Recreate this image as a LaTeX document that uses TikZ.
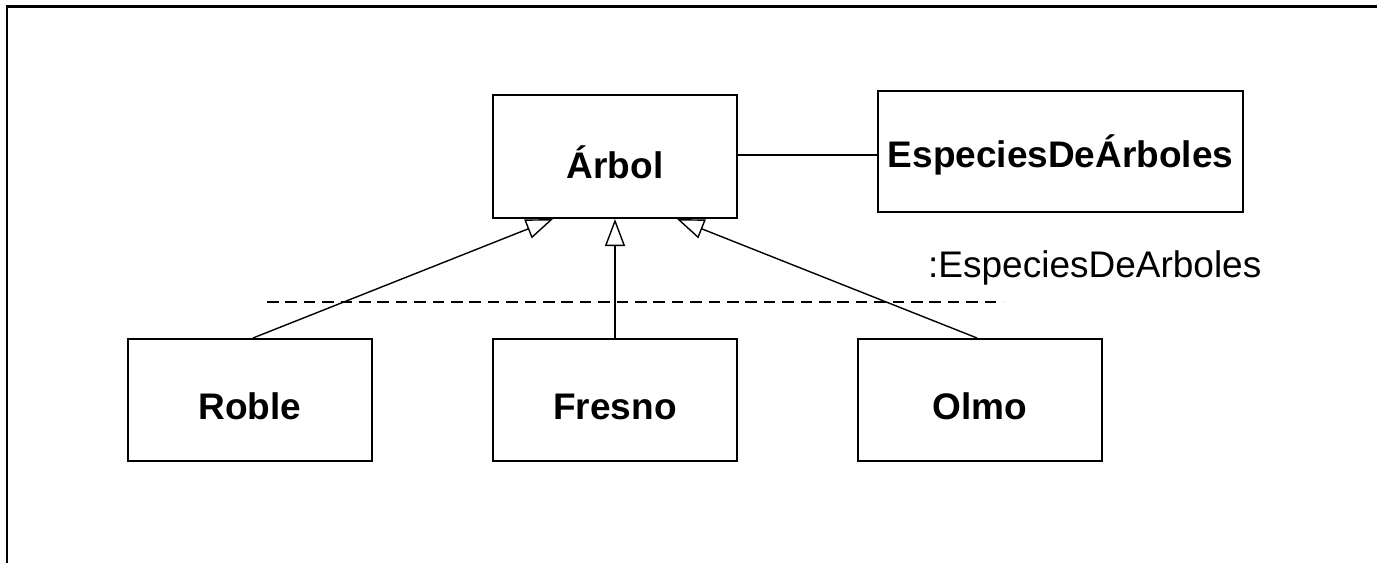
\documentclass[tikz,border=0pt]{standalone}
\usepackage{fontspec}
\setmainfont{Liberation Sans}
\usetikzlibrary{arrows.meta}
\tikzset{
  classbox/.style={draw=black, line width=2pt, rectangle, inner sep=0pt, minimum height=122pt},
  lbl/.style={anchor=base, inner sep=0pt, font=\fontsize{37}{44}\selectfont\bfseries},
  note/.style={anchor=base west, inner sep=0pt, font=\fontsize{37}{44}\selectfont},
  gen/.style={line width=1.4pt, -{Triangle[open, length=27pt, width=20pt, line width=1.4pt]}},
  assoc/.style={line width=2pt},
  frameline/.style={line width=2.8pt},
  sepline/.style={line width=2.3pt, dash pattern=on 11.5pt off 6.9pt}
}
\begin{document}
\begin{tikzpicture}[x=1pt,y=-1pt]
\useasboundingbox (0,0) rectangle (1377,563);
% frame
\draw[frameline] (7,563) -- (7,6.5) -- (1377,6.5);
% boxes
\node[classbox, minimum width=244pt, minimum height=123pt] (arbol) at (615,156.5) {};
\node[classbox, minimum width=365pt, minimum height=121pt] (especies) at (1060.5,151.5) {};
\node[classbox, minimum width=244pt] (roble) at (250,400) {};
\node[classbox, minimum width=244pt] (fresno) at (615,400) {};
\node[classbox, minimum width=244pt] (olmo) at (980,400) {};
% labels
\node[lbl] (tarbol) at ([yshift=-21.5pt]arbol.center) {Árbol};
\node[lbl] (tespecies) at ([yshift=-15.5pt]especies.center) {EspeciesDeÁrboles};
\node[lbl] (troble) at ([yshift=-19.5pt]roble.center) {Roble};
\node[lbl] (tfresno) at ([yshift=-19.5pt]fresno.center) {Fresno};
\node[lbl] (tolmo) at ([yshift=-19.5pt]olmo.center) {Olmo};
\node[note] (tpart) at (928,277) {:EspeciesDeArboles};
% separator
\coordinate (sepA) at (267,302);
\coordinate (sepB) at (1003,302);
\draw[sepline] (sepA) -- (sepB);
% association
\coordinate (assocA) at ([xshift=-2pt,yshift=1.5pt]arbol.east);
\draw[assoc] (assocA) -- (especies.west |- assocA);
% generalizations
\draw[gen] ([xshift=3pt]roble.north) -- ([xshift=-62pt]arbol.south);
\draw[gen] (fresno.north) -- (arbol.south);
\draw[gen] ([xshift=-3pt]olmo.north) -- ([xshift=62pt]arbol.south);
\end{tikzpicture}
\end{document}
